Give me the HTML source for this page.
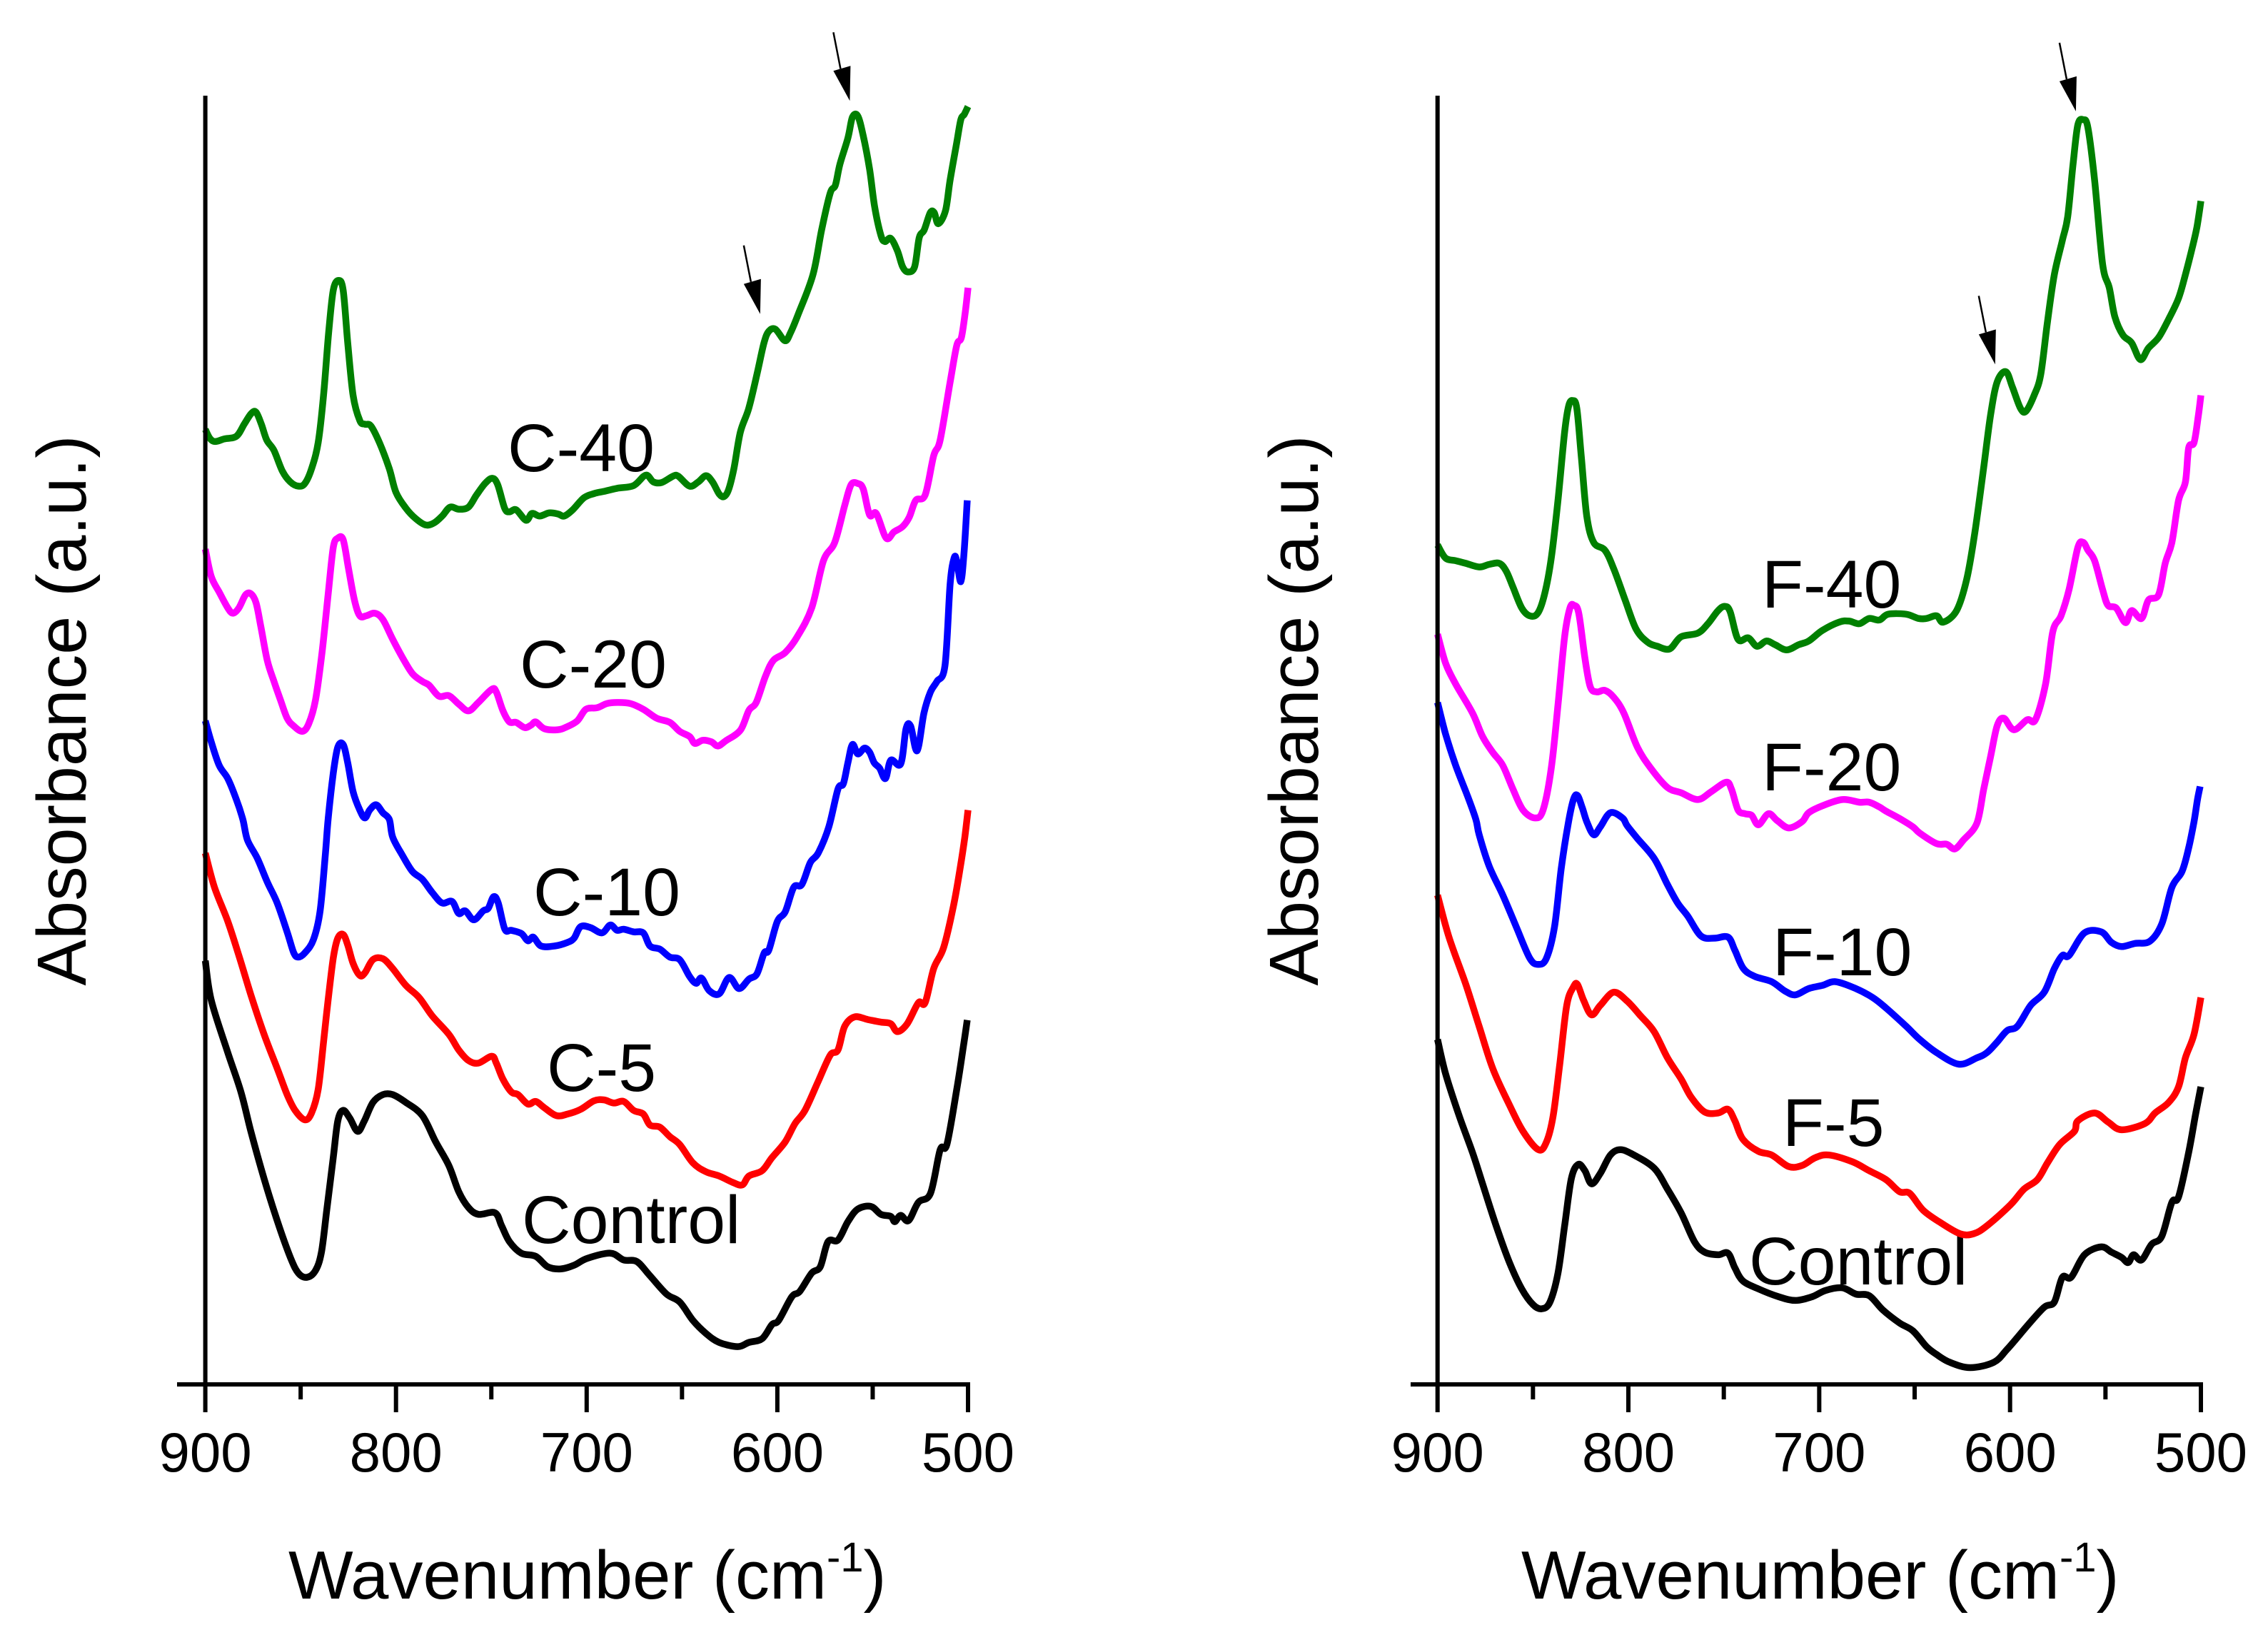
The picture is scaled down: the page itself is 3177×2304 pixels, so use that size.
<!DOCTYPE html>
<html lang="en">
<head>
<meta charset="utf-8">
<title>Absorbance spectra</title>
<style>
html,body{margin:0;padding:0;background:#fff;}
svg{display:block;}
text{font-family:"Liberation Sans",sans-serif;fill:#000;}
.series-label{font-size:95px;}
.axis-title{font-size:96px;}
.y-title{font-size:97px;}
.tick-label{font-size:78px;text-anchor:middle;}
</style>
</head>
<body>
<svg id="chart" xmlns="http://www.w3.org/2000/svg" width="3177" height="2304" viewBox="0 0 3177 2304">
  <rect x="0" y="0" width="3177" height="2304" fill="#ffffff"/>
  <g id="panel-c">
    <text class="y-title" transform="translate(120,995) rotate(-90)" text-anchor="middle">Absorbance (a.u.)</text>
    <text class="axis-title" x="404" y="2239">Wavenumber (cm<tspan dy="-38" font-size="58">-1</tspan><tspan dy="38">)</tspan></text>
    <text class="series-label" x="711" y="660">C-40</text>
    <text class="series-label" x="728" y="963">C-20</text>
    <text class="series-label" x="747" y="1282">C-10</text>
    <text class="series-label" x="766" y="1528">C-5</text>
    <text class="series-label" x="731" y="1741">Control</text>
  </g>
  <g id="panel-f">
    <text class="y-title" transform="translate(1846,995) rotate(-90)" text-anchor="middle">Absorbance (a.u.)</text>
    <text class="axis-title" x="2131" y="2239">Wavenumber (cm<tspan dy="-38" font-size="58">-1</tspan><tspan dy="38">)</tspan></text>
    <text class="series-label" x="2468" y="851">F-40</text>
    <text class="series-label" x="2468" y="1107">F-20</text>
    <text class="series-label" x="2483" y="1366">F-10</text>
    <text class="series-label" x="2497" y="1605">F-5</text>
    <text class="series-label" x="2450" y="1799">Control</text>
  </g>
</svg>
<script>
const majorTickLabels = [900, 800, 700, 600, 500];
const minorTickValues = [850, 750, 650, 550];

const c40 = [[900,1819],[897.6,1802],[894.8,1796],[890,1801],[883.7,1806],[879.6,1829],[876,1849],[873.4,1852],[870.6,1829],[867.8,1799],[864,1779],[859.5,1739],[855.4,1719],[851.2,1711],[847.8,1716],[844.3,1744],[840.8,1794],[838,1884],[835.3,2004],[832.9,2084],[830.1,2103],[827.7,2084],[825.3,1984],[822.5,1884],[819,1836],[816.3,1829],[813.2,1826],[808.7,1794],[803.5,1744],[800,1699],[794.8,1669],[789.6,1649],[784.4,1637],[780,1641],[775.8,1654],[771.6,1671],[767,1667],[762,1671],[757.8,1694],[753.3,1716],[749.5,1726],[746.7,1714],[743,1669],[740.5,1662],[737,1666],[731.8,1646],[728.7,1659],[724.6,1654],[719.7,1660],[715,1658],[711.8,1654],[707.3,1666],[701.4,1689],[696,1697],[691,1701],[684,1707],[675.4,1712],[669,1732],[665,1719],[660.6,1718],[654.7,1730],[652,1730],[646,1711],[641.5,1719],[637.4,1731],[634,1719],[630.5,1696],[628,1691],[625.6,1704],[622.8,1744],[619.4,1814],[615,1859],[610.7,1924],[607,1984],[604.5,2006],[601,2010],[596,1988],[593,2004],[589,2039],[581.3,2114],[576.8,2199],[572.3,2269],[569.6,2284],[567.2,2324],[563,2374],[560.6,2414],[557.8,2416],[555,2379],[551.6,2314],[549,2244],[545.7,2189],[543.6,2177],[540.5,2183],[537,2159],[534.3,2129],[531.5,2119],[528,2129],[525.6,2184],[523,2199],[519.8,2232],[517.7,2232],[515.6,2211],[511.8,2236],[509.4,2294],[506,2364],[503.8,2409],[502,2419],[500,2434]];

const c20 = [[900,1591],[896.9,1539],[892.7,1509],[888.2,1479],[885.5,1469],[882.4,1479],[878.9,1504],[876.1,1506],[873.4,1489],[870.9,1444],[867.5,1379],[864,1339],[860.6,1304],[857.1,1269],[853.6,1254],[849.1,1244],[845.7,1259],[842.2,1304],[838.8,1394],[835.6,1504],[832.9,1594],[830.5,1612],[827.7,1609],[824.9,1554],[821.8,1494],[819,1464],[815.6,1464],[811.1,1469],[806.9,1457],[801.7,1419],[796.5,1384],[791.4,1354],[786.2,1339],[782.7,1332],[777.5,1311],[772.3,1312],[767.1,1296],[762,1283],[756.8,1299],[749.8,1324],[747.4,1319],[744,1284],[740.5,1262],[737,1261],[732.5,1251],[729.1,1256],[726.7,1262],[722.2,1249],[715.2,1247],[710.7,1252],[704.9,1264],[700.4,1286],[694.5,1289],[689.3,1297],[684.1,1299],[677.2,1297],[670.3,1286],[663.3,1269],[656.4,1261],[651.2,1244],[646,1234],[643.3,1221],[639.1,1227],[634.6,1224],[631.2,1216],[627,1226],[619.4,1246],[614.9,1284],[611.1,1299],[606.2,1349],[602.1,1379],[595.9,1394],[589.6,1424],[582,1479],[575.8,1569],[569.9,1604],[564.7,1674],[561.3,1714],[557.8,1716],[555,1706],[551.6,1656],[548.1,1659],[542.9,1612],[538.8,1624],[534.3,1634],[530.8,1652],[527.4,1684],[522.5,1694],[518,1769],[514.6,1799],[509.4,1909],[505.9,1979],[503.5,1994],[501.4,2044],[500,2089]];

const c10 = [[900,1264],[896.9,1224],[892.7,1179],[888.2,1154],[883.7,1114],[880.3,1076],[877.9,1037],[872.7,1002],[867.5,957],[862.3,917],[857.1,862],[853.6,822],[851.2,814],[847.8,822],[843.3,847],[839.8,902],[837,1012],[835.6,1076],[832.9,1164],[830.5,1214],[827.7,1219],[825.3,1184],[822.5,1129],[819,1094],[816.3,1079],[813.8,1094],[810.4,1104],[806.9,1089],[803.5,1076],[801.7,1042],[796.5,1007],[791.4,977],[786.2,962],[781,937],[775.8,917],[770.6,920],[767.1,897],[763.7,902],[759.2,885],[754.3,902],[751.6,907],[748.8,929],[746.4,917],[742.9,867],[739.5,865],[734.3,859],[730.8,845],[728,852],[723.9,835],[716.9,835],[710,842],[706.6,850],[703.1,872],[697.9,870],[692,860],[687.6,875],[684.1,865],[680.6,867],[675.4,862],[670.3,860],[666.8,835],[661.6,829],[656.4,814],[651.2,809],[646,777],[642.6,764],[639.8,774],[635.7,750],[630.5,744],[625.3,775],[620.1,754],[614.9,772],[610.7,782],[606.9,822],[604.5,827],[600,882],[595.9,900],[591.4,947],[587.2,952],[582.7,994],[578.6,1012],[573,1062],[568.2,1134],[565.4,1144],[563,1184],[560.6,1219],[557.8,1201],[554.3,1212],[551.6,1204],[549.2,1184],[546.4,1174],[543.3,1154],[540.5,1189],[535.3,1182],[532.5,1249],[530.1,1254],[526.7,1207],[523.1,1279],[519.7,1319],[516.3,1339],[512.1,1369],[509.4,1524],[507.3,1574],[505.9,1569],[503.8,1529],[502.1,1584],[500.4,1684]];

const c5 = [[900,1012],[895.2,947],[888.2,882],[882.4,817],[876.1,742],[869.2,667],[862.3,602],[857.1,552],[852.9,522],[847.8,504],[844.3,517],[840.8,562],[838,652],[835.6,732],[832.9,812],[830.5,850],[827.7,857],[825.3,837],[822.5,802],[819,779],[816.3,784],[812.1,809],[806.9,811],[801.7,792],[794.8,760],[787.9,737],[781,702],[772.3,667],[767.1,637],[762,617],[756.8,612],[749.8,625],[747.4,612],[744,582],[739.5,557],[736,552],[730.8,534],[726.7,539],[722.2,527],[715.9,512],[710,515],[703.1,524],[696.2,540],[691,542],[685.8,536],[680.6,539],[675.4,522],[670.3,515],[666.8,494],[661.6,490],[656.4,472],[651.2,457],[644.3,422],[637.4,405],[630.5,397],[623.5,385],[618.4,380],[614.9,397],[608,407],[602.8,432],[595.9,462],[590.7,497],[585.5,522],[578.6,577],[572.3,627],[568.2,637],[564.7,682],[559.5,700],[552.6,695],[545.7,690],[540.5,687],[537,672],[531.9,687],[526,727],[522.5,727],[518,792],[512.8,832],[507.6,912],[504.2,982],[501.7,1042],[500,1094]];

const controlC = [[900,807],[896.9,732],[888.2,632],[881.3,557],[876.1,482],[869.2,392],[862.3,312],[855.4,242],[851.2,212],[846.7,204],[842.2,217],[839.1,252],[836.3,332],[832.9,432],[830.5,502],[827.7,522],[824.2,507],[820.1,482],[816.6,502],[812.1,537],[806.9,552],[801.7,552],[794.8,537],[786.2,512],[779.2,462],[772.3,417],[767.1,367],[762,337],[756.8,324],[748.1,327],[744.6,302],[740.5,272],[734.3,250],[726.7,244],[720.4,224],[713.5,220],[706.6,227],[699.7,240],[687.6,250],[680.6,237],[673.7,234],[666.8,207],[658.1,172],[651.2,157],[644.3,122],[637.4,97],[630.5,80],[620.8,72],[614.9,80],[608,87],[602.8,114],[599.3,122],[592.4,167],[588.3,177],[582,212],[577.5,224],[573.4,272],[568.2,275],[563,310],[557.8,334],[550.9,339],[545.7,324],[540.5,320],[538.4,310],[535.3,322],[531.2,312],[526,347],[519.7,364],[514.6,447],[511.1,457],[505.9,562],[502.5,642],[500.4,694]];

const f40 = [[900,1599],[895.8,1574],[890.5,1569],[885.2,1564],[878.2,1557],[872.9,1562],[867.6,1564],[864,1549],[860.5,1519],[855.9,1479],[851.7,1464],[847.5,1469],[844,1504],[840.4,1574],[836.9,1684],[833.4,1814],[831.3,1864],[829.2,1874],[827,1859],[824.6,1764],[821.8,1654],[818.2,1604],[812.3,1589],[807.7,1554],[801.7,1494],[796,1439],[790,1414],[784.8,1406],[778.4,1401],[772.4,1424],[763.6,1431],[758.3,1449],[753,1474],[749.5,1482],[746.7,1472],[742.5,1419],[737.2,1422],[732.6,1406],[727.7,1416],[723.1,1409],[717.1,1399],[710.8,1409],[705.5,1416],[698.4,1436],[689.6,1452],[684.3,1454],[679,1449],[673.8,1459],[668.5,1456],[663.9,1467],[654.4,1467],[648,1459],[643.8,1459],[638.5,1464],[635,1452],[628,1474],[622.7,1534],[618.4,1624],[613.9,1744],[610.3,1844],[606.8,1909],[602.2,1929],[598.7,1899],[594.5,1859],[591.6,1854],[587.4,1884],[583.9,1924],[580.4,2024],[576.8,2114],[572.6,2179],[569.8,2224],[567,2324],[564.5,2399],[561.7,2409],[559.2,2394],[555.7,2294],[551.5,2134],[548,2089],[545.1,2034],[540.9,1999],[536.3,1984],[531.7,1952],[527.5,1974],[522.2,1994],[516.9,2029],[511.7,2069],[508.1,2114],[504.6,2164],[502.1,2204],[500,2254]];

const f20 = [[900,1429],[895.8,1374],[890.5,1334],[881.7,1279],[876.4,1234],[871.1,1204],[865.8,1179],[860.5,1134],[855.2,1094],[848.9,1079],[844.7,1094],[840.4,1174],[836.9,1294],[833.4,1424],[830.6,1479],[828.5,1484],[826,1469],[822.8,1384],[820,1329],[816.5,1319],[812.3,1322],[807.7,1309],[802.4,1279],[795.3,1214],[788.3,1174],[779.5,1137],[772.4,1127],[763.6,1114],[756.6,1129],[748.8,1147],[746,1134],[742.5,1094],[738.9,1087],[735.4,1084],[731.9,1066],[726.6,1087],[722,1074],[716,1060],[709,1072],[705.5,1089],[698.4,1102],[687.9,1114],[679,1109],[673.8,1109],[668.5,1100],[665,1092],[657.9,1078],[650.9,1062],[647.3,1050],[638.5,1030],[633.2,1029],[629,1020],[624.4,1037],[617.4,1069],[613.8,1134],[610.3,1194],[606.8,1254],[603.3,1269],[598,1247],[591,1266],[586.7,1266],[581.4,1334],[577.6,1434],[573.3,1464],[569.1,1514],[564.5,1594],[561.7,1604],[559.2,1589],[555.7,1569],[551.5,1514],[548.7,1484],[544.4,1479],[539.5,1451],[536.3,1474],[531.1,1459],[527.5,1494],[522.2,1504],[518.7,1564],[515.2,1604],[511.7,1684],[508.1,1719],[506.4,1784],[503.6,1794],[501.4,1844],[500,1884]];

const f10 = [[900,1299],[895.8,1239],[890.5,1179],[884.1,1119],[879.9,1076],[878.2,1047],[872.9,987],[865.8,932],[858.8,872],[851.7,812],[847.1,800],[842.9,812],[838.7,872],[835.2,982],[831.6,1067],[828.8,1114],[826.7,1122],[824.2,1099],[821.8,1072],[818.2,1047],[814.7,1062],[809.4,1089],[803.1,1079],[800.6,1064],[795.3,1040],[786.5,1002],[779.5,952],[774.2,917],[768.9,892],[761.9,854],[754.8,850],[747.8,852],[744.2,827],[739.7,792],[733.7,777],[724.9,767],[717.8,749],[712.5,742],[705.5,754],[698.4,760],[691.4,767],[680.8,754],[672,737],[665,717],[654.4,682],[647.3,657],[638.5,632],[626.9,610],[617.4,622],[612.1,632],[606.8,652],[601.5,674],[596.2,682],[589.2,722],[582.1,747],[576.8,792],[572.6,817],[569.1,817],[561,860],[552.2,862],[546.9,842],[541.6,834],[534.6,840],[526.8,844],[520.5,877],[515.2,947],[509.9,977],[506.4,1022],[503.6,1072],[501.8,1114],[500.4,1139]];

const f5 = [[900,932],[894,852],[885.2,762],[878.2,682],[871.1,602],[862.3,532],[855.2,482],[847.1,447],[842.9,462],[839.4,512],[835.9,612],[832.3,722],[828.8,757],[826.7,762],[823.5,732],[819.3,704],[814.7,722],[807.7,747],[800.6,730],[793.6,702],[786.5,672],[779.5,622],[772.4,582],[767.1,547],[760.1,519],[753,517],[747.8,524],[744.2,502],[740,467],[731.9,444],[724.9,437],[716,415],[709,417],[702,432],[694.9,437],[682.6,424],[673.8,407],[665,390],[657.9,367],[652.6,364],[645.6,332],[636.8,309],[626.2,287],[619.1,287],[612.1,302],[599.8,342],[592.7,372],[585.7,390],[580.4,422],[574,457],[566.3,482],[564.5,502],[555.7,517],[548.7,500],[541.6,485],[529.3,497],[524,517],[516.9,537],[511.7,567],[508.1,622],[503.6,667],[500,737]];

const controlF = [[900,657],[895.8,592],[888.7,512],[881.7,442],[876.4,382],[869.3,302],[862.3,232],[855.9,182],[850,152],[845.4,144],[841.1,157],[836.9,212],[833.4,302],[829.9,392],[826.3,419],[822.8,407],[819.3,382],[814.7,402],[809.4,437],[804.1,447],[797.1,437],[786.5,412],[779.5,372],[772.4,327],[765.4,272],[760.1,252],[753,247],[747.8,250],[744.2,222],[740,197],[731.9,182],[721.3,167],[712.5,160],[703.7,167],[696.7,179],[687.9,184],[680.8,172],[673.8,169],[666.7,142],[657.9,117],[650.9,102],[643.8,72],[638.5,57],[631.5,42],[620.9,32],[608.6,42],[601.5,67],[590.9,112],[582.1,147],[576.8,157],[572.6,204],[568,204],[561,247],[552.2,262],[546.9,252],[541.6,242],[538.1,232],[535.3,247],[531.1,237],[525.8,267],[520.5,282],[515.2,347],[511.7,357],[506.4,442],[502.9,512],[500,567]];

const arrowsC = [[562,2445],[609,2039]];
const arrowsF = [[565.5,2425],[607.8,1943]];

const SVG_NS = 'http://www.w3.org/2000/svg';
const AXIS_BOTTOM = 1939;
const AXIS_TOP = 134;
const Y_PER_PX = 1.36;

function yScale(v) { return AXIS_BOTTOM - v / Y_PER_PX; }
function makeXScale(left, right) {
  return function (wn) { return left + (900 - wn) / 400 * (right - left); };
}

function smoothPath(data, x) {
  const pts = data.map(function (d) { return [x(d[0]), yScale(d[1])]; });
  let out = 'M' + pts[0][0].toFixed(1) + ' ' + pts[0][1].toFixed(1);
  for (let i = 0; i < pts.length - 1; i++) {
    const p0 = pts[Math.max(0, i - 1)];
    const p1 = pts[i];
    const p2 = pts[i + 1];
    const p3 = pts[Math.min(pts.length - 1, i + 2)];
    const c1x = p1[0] + (p2[0] - p0[0]) / 6;
    const c1y = p1[1] + (p2[1] - p0[1]) / 6;
    const c2x = p2[0] - (p3[0] - p1[0]) / 6;
    const c2y = p2[1] - (p3[1] - p1[1]) / 6;
    out += 'C' + c1x.toFixed(1) + ' ' + c1y.toFixed(1) + ' ' + c2x.toFixed(1) + ' ' + c2y.toFixed(1) + ' ' + p2[0].toFixed(1) + ' ' + p2[1].toFixed(1);
  }
  return out;
}

function addLine(group, x1, y1, x2, y2, width) {
  const line = document.createElementNS(SVG_NS, 'line');
  line.setAttribute('x1', x1);
  line.setAttribute('y1', y1);
  line.setAttribute('x2', x2);
  line.setAttribute('y2', y2);
  line.setAttribute('stroke', '#000');
  line.setAttribute('stroke-width', width);
  group.appendChild(line);
  return line;
}

function drawPanel(groupId, left, right, axisStart, curves, arrows) {
  const group = document.getElementById(groupId);
  const x = makeXScale(left, right);

  curves.forEach(function (curve) {
    const path = document.createElementNS(SVG_NS, 'path');
    path.setAttribute('d', smoothPath(curve.data, x));
    path.setAttribute('fill', 'none');
    path.setAttribute('stroke', curve.color);
    path.setAttribute('stroke-width', '9.5');
    path.setAttribute('stroke-linejoin', 'round');
    
    
    group.appendChild(path);
  });

  const yAxis = addLine(group, left, AXIS_TOP, left, AXIS_BOTTOM, 6);
  
  

  const xAxis = addLine(group, axisStart, AXIS_BOTTOM, right + 3, AXIS_BOTTOM, 6);
  
  

  majorTickLabels.forEach(function (value) {
    const tick = addLine(group, x(value), AXIS_BOTTOM, x(value), AXIS_BOTTOM + 39, 6);
    
    
    const label = document.createElementNS(SVG_NS, 'text');
    label.setAttribute('class', 'tick-label');
    label.setAttribute('x', x(value));
    label.setAttribute('y', 2061);
    label.textContent = String(value);
    
    
    group.appendChild(label);
  });

  minorTickValues.forEach(function (value) {
    const tick = addLine(group, x(value), AXIS_BOTTOM, x(value), AXIS_BOTTOM + 21, 6);
    
    
  });

  arrows.forEach(function (tip) {
    const tx = x(tip[0]);
    const ty = yScale(tip[1]);
    const shaft = addLine(group, tx - 23, ty - 96, tx - 13, ty - 45, 2.5);
    
    
    const head = document.createElementNS(SVG_NS, 'polygon');
    head.setAttribute('points', (tx - 23) + ',' + (ty - 42) + ' ' + (tx + 1) + ',' + (ty - 49) + ' ' + tx + ',' + ty);
    head.setAttribute('fill', '#000');
    
    
    group.appendChild(head);
  });
}

drawPanel('panel-c', 287.6, 1356, 248, [
  { name: 'curve-control-c', color: '#000000', data: controlC },
  { name: 'curve-c-5', color: '#ff0000', data: c5 },
  { name: 'curve-c-10', color: '#0000ff', data: c10 },
  { name: 'curve-c-20', color: '#ff00ff', data: c20 },
  { name: 'curve-c-40', color: '#008000', data: c40 }
], arrowsC);

drawPanel('panel-f', 2013.7, 3083, 1976, [
  { name: 'curve-control-f', color: '#000000', data: controlF },
  { name: 'curve-f-5', color: '#ff0000', data: f5 },
  { name: 'curve-f-10', color: '#0000ff', data: f10 },
  { name: 'curve-f-20', color: '#ff00ff', data: f20 },
  { name: 'curve-f-40', color: '#008000', data: f40 }
], arrowsF);
</script>
</body>
</html>
